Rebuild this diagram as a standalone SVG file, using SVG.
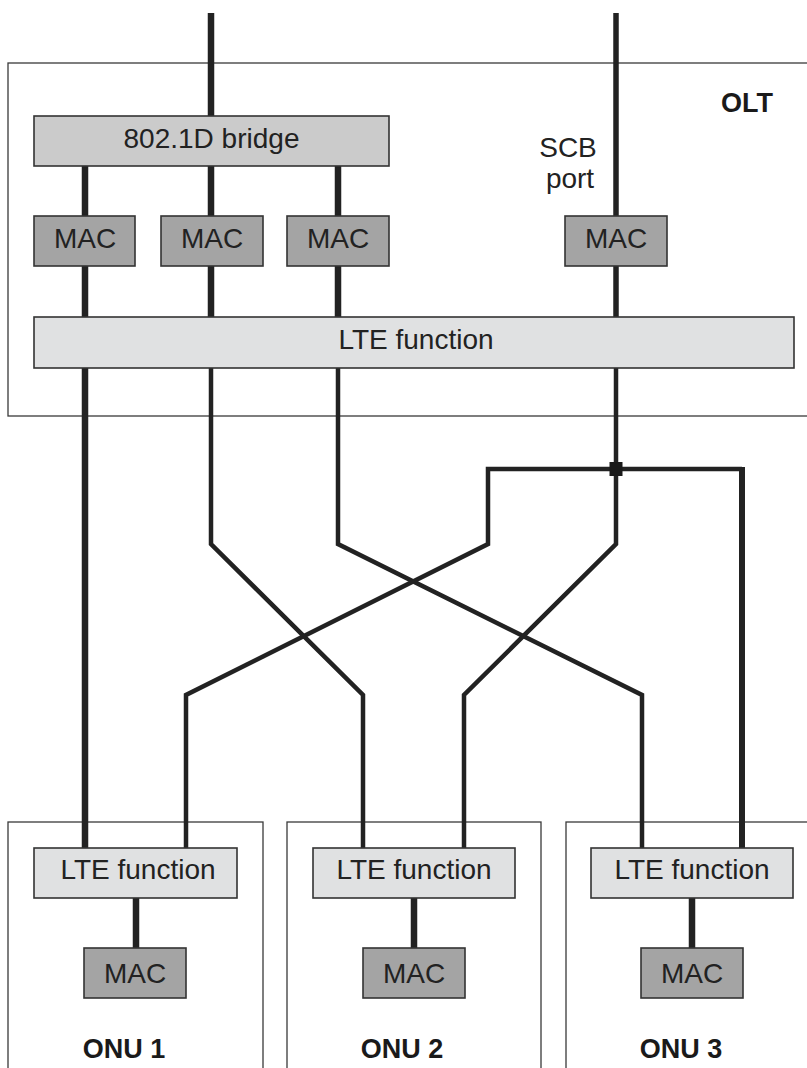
<svg xmlns="http://www.w3.org/2000/svg" width="807" height="1068" viewBox="0 0 807 1068">
<style>
.container{fill:#ffffff;stroke:#3a3a3a;stroke-width:1.3}
.bridge{fill:#cbcbcb;stroke:#333333;stroke-width:1.6}
.lte{fill:#e0e1e2;stroke:#333333;stroke-width:1.6}
.mac{fill:#a4a4a4;stroke:#333333;stroke-width:1.6}
.lbl{font-family:"Liberation Sans",Arial,sans-serif;font-size:28px;fill:#222222;text-anchor:middle}
.bold{font-family:"Liberation Sans",Arial,sans-serif;font-size:27px;font-weight:bold;fill:#1a1a1a;text-anchor:middle}
.thick{fill:none;stroke:#222222;stroke-width:6.5;stroke-linejoin:miter}
.thin{fill:none;stroke:#222222;stroke-width:4.5;stroke-linejoin:miter}
</style>
<g id="olt">
<rect class="container" x="8" y="63" width="820" height="353"/>
<text class="bold" x="747" y="112">OLT</text>
</g>
<g id="onu1">
<rect class="container" x="8" y="822" width="255" height="260"/>
<text class="bold" x="124" y="1058">ONU 1</text>
</g>
<g id="onu2">
<rect class="container" x="287" y="822" width="254" height="260"/>
<text class="bold" x="402" y="1058">ONU 2</text>
</g>
<g id="onu3">
<rect class="container" x="566" y="822" width="260" height="260"/>
<text class="bold" x="681" y="1058">ONU 3</text>
</g>
<g id="connectors">
<path class="thick" d="M211 13 V116"/>
<path class="thick" d="M616 13 V216" style="stroke-width:5.5"/>
<path class="thick" d="M85 166 V216 M211 166 V216 M338 166 V216"/>
<path class="thick" d="M85 266 V317 M211 266 V317 M338 266 V317"/>
<path class="thick" d="M616 266 V317" style="stroke-width:5.5"/>
<path class="thick" d="M85 368 V848"/>
<path class="thin" d="M211 368 V544 L363 695 V848"/>
<path class="thin" d="M338 368 V544 L642 695 V848"/>
<path class="thin" d="M616 368 V544 L464 695 V848"/>
<path class="thin" d="M186 848 V695 L488 544 V469 H742"/>
<path class="thick" d="M742 467 V848" style="stroke-width:6"/>
<rect x="609.5" y="462" width="13" height="14" fill="#1a1a1a"/>
<path class="thick" d="M136 898 V948 M414 898 V948 M692 898 V948"/>
</g>
<g id="bridge">
<rect class="bridge" x="34" y="116" width="355" height="50"/>
<text class="lbl" x="211.5" y="148">802.1D bridge</text>
</g>
<g id="mac1">
<rect class="mac" x="34" y="216" width="101" height="50"/>
<text class="lbl" x="85" y="248">MAC</text>
</g>
<g id="mac2">
<rect class="mac" x="161" y="216" width="102" height="50"/>
<text class="lbl" x="212" y="248">MAC</text>
</g>
<g id="mac3">
<rect class="mac" x="287" y="216" width="102" height="50"/>
<text class="lbl" x="338" y="248">MAC</text>
</g>
<g id="scb-port">
<text class="lbl" x="568" y="157">SCB</text>
<text class="lbl" x="570" y="188">port</text>
</g>
<g id="mac-scb">
<rect class="mac" x="565" y="216" width="102" height="50"/>
<text class="lbl" x="616" y="248">MAC</text>
</g>
<g id="olt-lte">
<rect class="lte" x="34" y="317" width="760" height="51"/>
<text class="lbl" x="416" y="349">LTE function</text>
</g>
<g id="onu1-lte">
<rect class="lte" x="34" y="848" width="203" height="50"/>
<text class="lbl" x="138" y="879">LTE function</text>
</g>
<g id="onu2-lte">
<rect class="lte" x="313" y="848" width="202" height="50"/>
<text class="lbl" x="414" y="879">LTE function</text>
</g>
<g id="onu3-lte">
<rect class="lte" x="591" y="848" width="202" height="50"/>
<text class="lbl" x="692" y="879">LTE function</text>
</g>
<g id="onu1-mac">
<rect class="mac" x="84" y="948" width="102" height="50"/>
<text class="lbl" x="135" y="983">MAC</text>
</g>
<g id="onu2-mac">
<rect class="mac" x="363" y="948" width="102" height="50"/>
<text class="lbl" x="414" y="983">MAC</text>
</g>
<g id="onu3-mac">
<rect class="mac" x="641" y="948" width="102" height="50"/>
<text class="lbl" x="692" y="983">MAC</text>
</g>
</svg>
